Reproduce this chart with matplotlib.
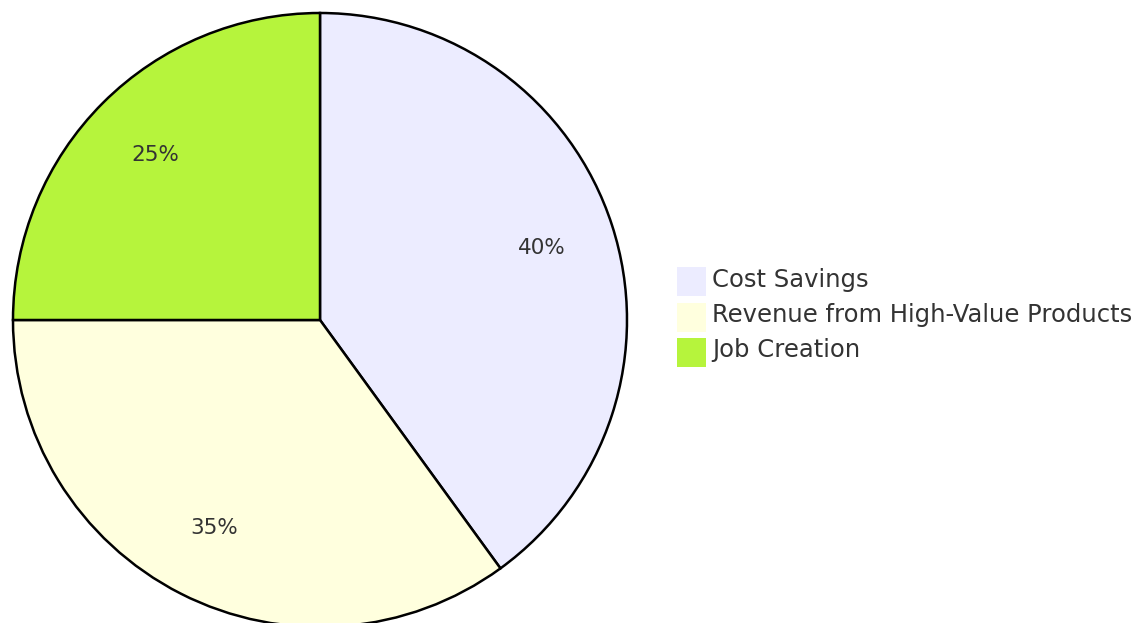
import matplotlib.pyplot as plt
from matplotlib.patches import Rectangle

# data
labels = ['Cost Savings', 'Revenue from High-Value Products', 'Job Creation']
shares = [40, 35, 25]
colors = ['#ECECFF', '#FFFFDE', '#B6F43C']

W, H = 1147, 623
fig = plt.figure(figsize=(W / 100, H / 100), dpi=100)

# pie centre / radius in pixels
cx, cy, r = 320, 320, 307
ax = fig.add_axes([(cx - r) / W, (H - cy - r) / H, 2 * r / W, 2 * r / H])

wedges, texts, autotexts = ax.pie(
    shares, colors=colors, startangle=90, counterclock=False, radius=1,
    autopct='%1.0f%%', pctdistance=0.76,
    wedgeprops=dict(edgecolor='black', linewidth=1.8),
    textprops=dict(fontsize=15.5, color='#333333', family='DejaVu Sans'))
ax.set_aspect('equal')
ax.set_xlim(-1, 1)
ax.set_ylim(-1, 1)
ax.axis('off')

# legend drawn by hand to match layout
lax = fig.add_axes([0, 0, 1, 1])
lax.set_xlim(0, W)
lax.set_ylim(H, 0)
lax.axis('off')
x0, y0, size, step = 677, 267, 29, 35.5
for i, (lab, col) in enumerate(zip(labels, colors)):
    y = y0 + i * step
    lax.add_patch(Rectangle((x0, y), size, size, facecolor=col, edgecolor='none'))
    lax.text(x0 + size + 6, y + size / 2 - 2, lab, fontsize=17.5, color='#333333',
             va='center', ha='left', family='DejaVu Sans')

fig.savefig('out.png', dpi=100, facecolor='white')
